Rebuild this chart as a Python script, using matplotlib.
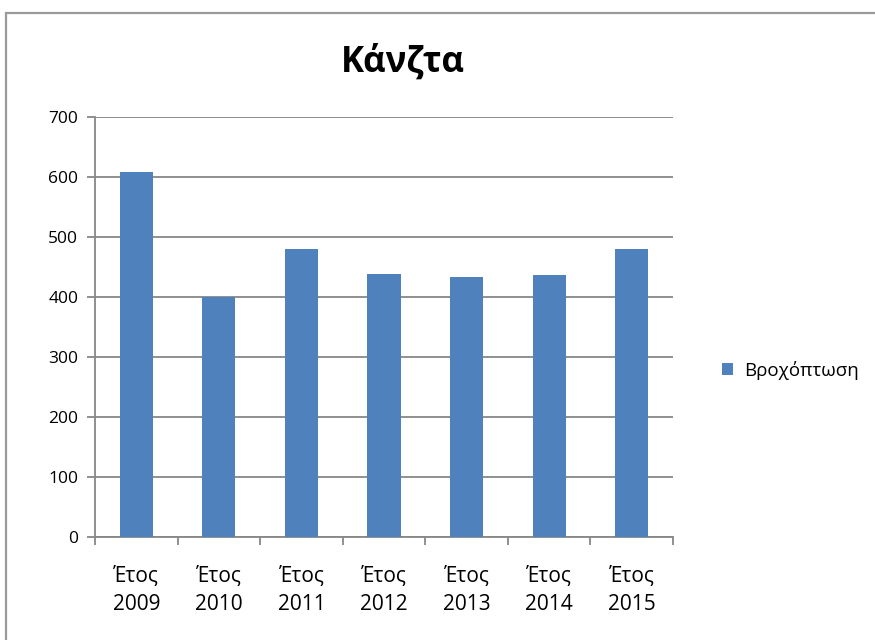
import matplotlib
matplotlib.use("Agg")
import matplotlib.pyplot as plt
from matplotlib.patches import Rectangle
import numpy as np

plt.rcParams['font.family'] = ['Open Sans', 'DejaVu Sans']

title = "Κάνζτα"
series_name = "Βροχόπτωση"
years = ["2009", "2010", "2011", "2012", "2013", "2014", "2015"]
rainfall = [608, 400, 480, 439, 433, 436, 480]
y_ticks = [0, 100, 200, 300, 400, 500, 600, 700]

bar_color = "#4F81BD"
grid_color = "#878787"

fig = plt.figure(figsize=(8.75, 6.4), dpi=100)

# outer chart frame
fig.patches.append(Rectangle((6 / 875, -0.05), 1.1, 1 - 12.5 / 640 + 0.05,
                             transform=fig.transFigure, fill=False,
                             edgecolor="#9a9a9a", linewidth=1.6))

ax = fig.add_axes([95 / 875, 1 - 537 / 640, (673 - 95) / 875, (537 - 117) / 640])

x = np.arange(len(years))
ax.bar(x, rainfall, width=0.4, color=bar_color, label=series_name, zorder=3)

ax.set_xlim(-0.5, len(years) - 0.5)
ax.set_ylim(0, 700)
ax.set_yticks(y_ticks)
ax.set_yticklabels([str(v) for v in y_ticks], fontsize=12.5)
ax.yaxis.grid(True, color=grid_color, linewidth=1.3, zorder=0)

ax.set_xticks(x)
ax.set_xticklabels(["Έτος\n" + y for y in years], fontsize=15, linespacing=1.4)
ax.tick_params(axis='x', which='major', length=0, pad=21)
ax.set_xticks(np.arange(-0.5, len(years)), minor=True)
ax.tick_params(axis='x', which='minor', length=6, color=grid_color, width=1.3)
ax.tick_params(axis='y', length=6, color=grid_color, width=1.3, pad=6)

for side in ("top", "right"):
    ax.spines[side].set_visible(False)
for side in ("left", "bottom"):
    ax.spines[side].set_color(grid_color)
    ax.spines[side].set_linewidth(1.3)

fig.text(403 / 875, 1 - 63 / 640, title, ha="center", va="center",
         fontsize=25, fontweight="bold")

ax.legend(loc="center left", bbox_to_anchor=(705 / 875, 1 - 370 / 640),
          bbox_transform=fig.transFigure, frameon=False, fontsize=13.5,
          handlelength=0.6, handleheight=0.6, handletextpad=0.6)

fig.savefig("out.png", dpi=100)
